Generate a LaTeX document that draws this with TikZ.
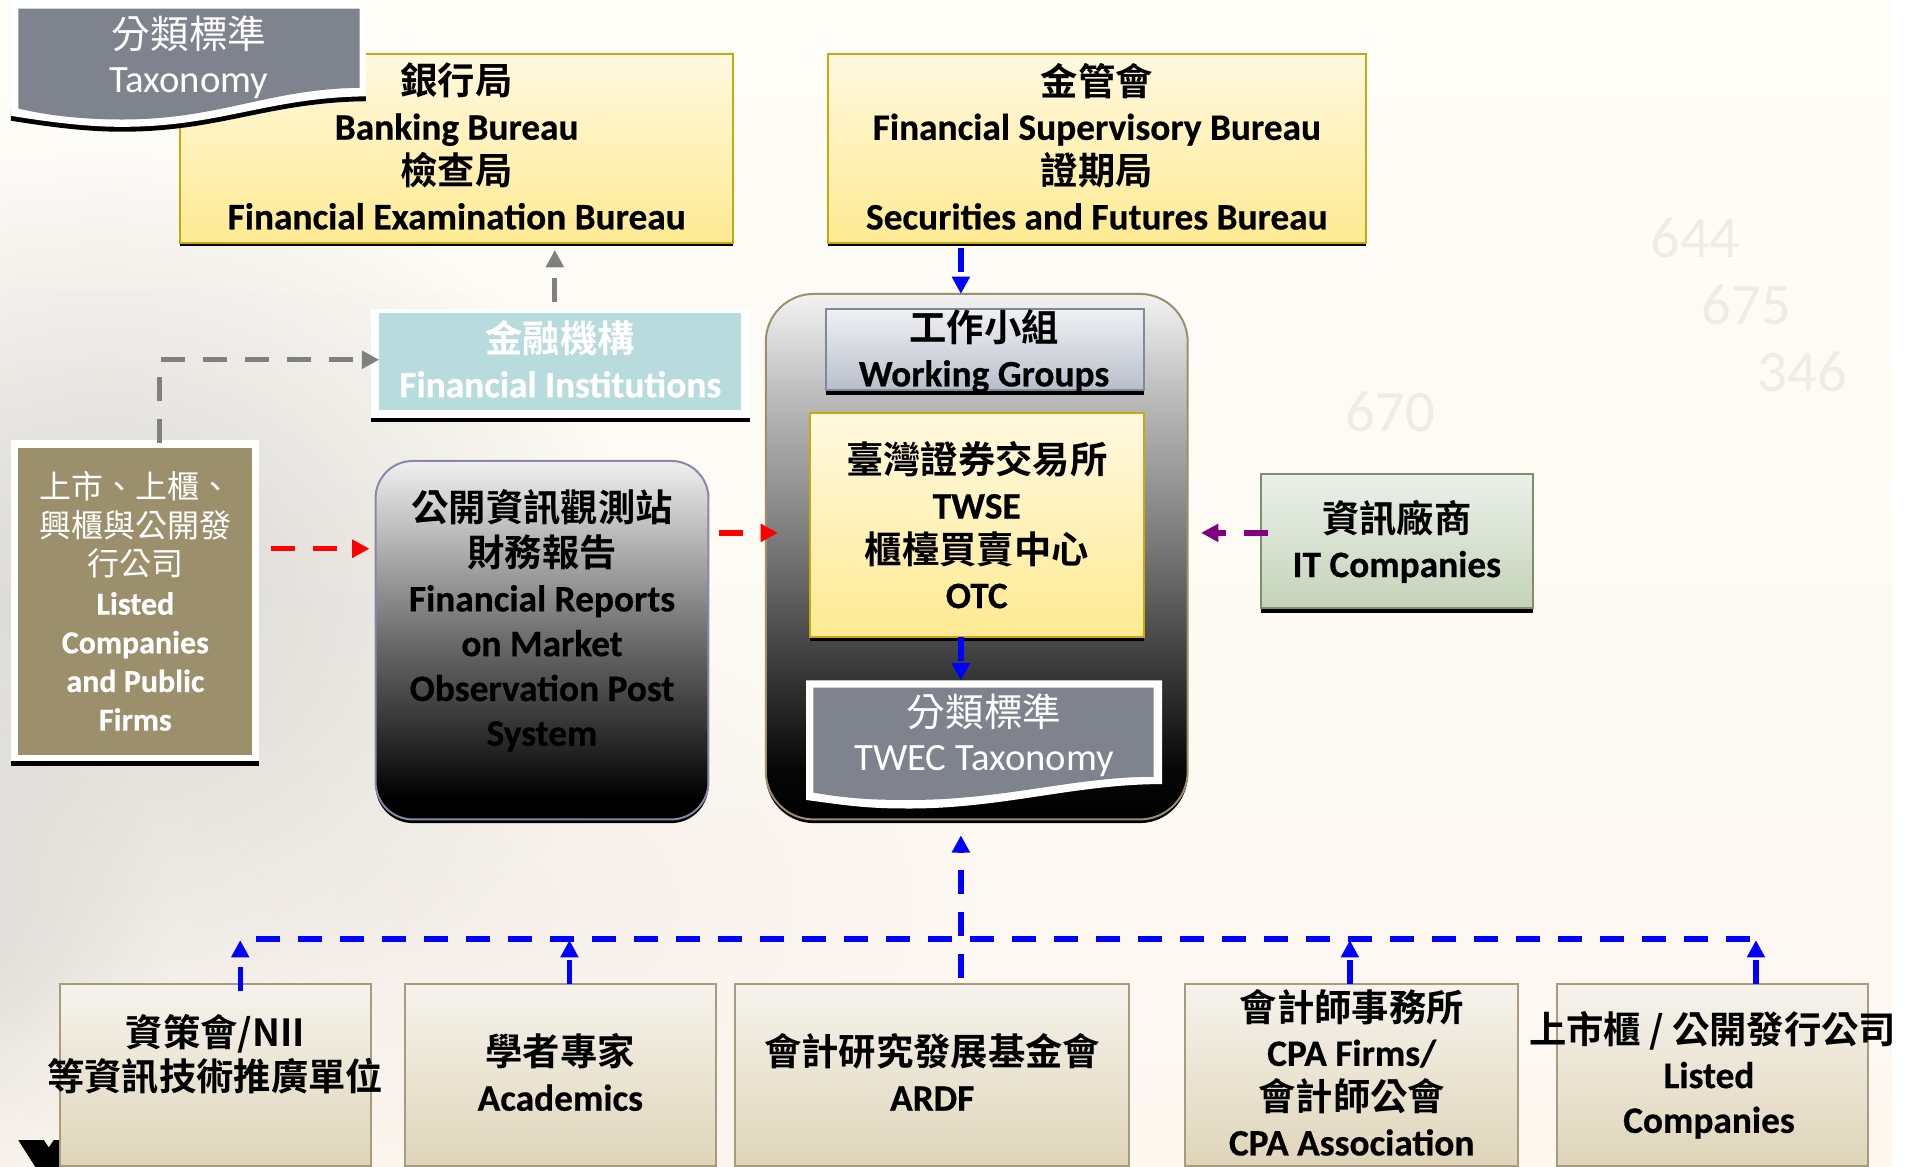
\documentclass[tikz,border=0pt]{standalone}
\usepackage{fontspec}
\usetikzlibrary{arrows.meta,fadings,calc}
\setmainfont{Carlito}[BoldFeatures={FakeBold=0.5}]
\newfontfamily\cjkfont{Noto Sans CJK TC}
\newfontfamily\cjkb{Noto Sans CJK TC Bold}
\newcommand\zh[1]{{\cjkb\mdseries #1}}
\newcommand\zl[1]{{\cjkfont\mdseries #1}}
\newcommand\upfix[1]{\rule[-#1pt]{0pt}{1pt}}
\definecolor{bgtop}{HTML}{FEFDF8}
\definecolor{bgbot}{HTML}{FDF7F0}
\definecolor{mark}{HTML}{EFECE7}
\pgfdeclareverticalshading{mktshade}{100bp}{color(0bp)=(black); color(25bp)=(black); color(28bp)=(black); color(38bp)=(black!80!white); color(50bp)=(black!58!white); color(75bp)=(blue!4!black!6!white); color(100bp)=(blue!4!black!6!white)}
\pgfdeclareverticalshading{bigshade}{100bp}{color(0bp)=(black); color(25bp)=(black); color(30bp)=(black!97!white); color(50bp)=(black!55!white); color(66bp)=(black!25!white); color(75bp)=(orange!6!black!5!white); color(100bp)=(orange!6!black!5!white)}
\tikzfading[name=softc,inner color=transparent!0,outer color=transparent!100]
\newcommand\boxnode[7]{% name, style, x1,y1,x2,y2, text
  \pgfmathsetmacro\cxx{(#3+#5)/2}\pgfmathsetmacro\cyy{(#4+#6)/2}%
  \pgfmathsetmacro\wdd{(#5-#3)*0.91455}\pgfmathsetmacro\htt{(#6-#4)*0.91455}%
  \node[#2,minimum width=\wdd pt,minimum height=\htt pt] (#1) at (\cxx,\cyy) {#7};}
\newcommand\fw[1]{\makebox[0pt][c]{#1}}
\definecolor{violet}{HTML}{800080}
\definecolor{FFF9E0c}{HTML}{FFF9E0}\definecolor{FEEA92c}{HTML}{FEEA92}
\definecolor{goldedge}{HTML}{C8A810}
\definecolor{wgedge}{HTML}{7F8B9B}\definecolor{EEF0F4c}{HTML}{F0F1F5}\definecolor{B8BEC9c}{HTML}{B8BEC9}
\definecolor{itedge}{HTML}{7F8F6E}\definecolor{EBF0E8c}{HTML}{EBF0E9}\definecolor{C5D4B8c}{HTML}{C4D3B9}
\definecolor{tanedge}{HTML}{A89C80}\definecolor{F5F2EAc}{HTML}{F5F3EC}\definecolor{E0D5BAc}{HTML}{E0D5BA}
\definecolor{tealc}{HTML}{B8DCDD}\definecolor{olivec}{HTML}{9C8F6C}\definecolor{slatec}{HTML}{7F838D}
\definecolor{mktedge}{HTML}{8888A8}\definecolor{bigedge}{HTML}{9C8F6C}
\tikzset{
  basebox/.style={rectangle,inner sep=0pt,outer sep=0pt,align=center,line width=1.5pt,
    font=\fontsize{28}{33.6}\selectfont\bfseries},
  yellowbox/.style={basebox,draw=goldedge,top color=FFF9E0c,bottom color=FEEA92c},
  wgbox/.style={basebox,draw=wgedge,top color=EEF0F4c,bottom color=B8BEC9c},
  itbox/.style={basebox,draw=itedge,top color=EBF0E8c,bottom color=C5D4B8c},
  tanbox/.style={basebox,draw=tanedge,top color=F5F2EAc,bottom color=E0D5BAc},
  tealbox/.style={basebox,fill=tealc,text=white},
  oliveb/.style={basebox,fill=olivec,text=white,font=\fontsize{24}{29}\selectfont\bfseries},
  graydoc/.style={align=center,text=white,inner sep=0pt,font=\fontsize{29}{33.6}\selectfont},
  plaintext/.style={align=center,inner sep=0pt,font=\fontsize{28}{33.6}\selectfont\bfseries},
  conn/.style={line width=4pt,dash pattern=on 18pt off 13.5pt,-{Triangle[width=13pt,length=13pt]}},
  bl/.style={conn,draw=blue},
  rd/.style={conn,draw=red},
  gr/.style={conn,draw=gray},
  pu/.style={conn,draw=violet},
  roundm/.style={basebox,rounded corners=28pt,draw=mktedge,shading=mktshade},
  roundb/.style={rectangle,inner sep=0pt,outer sep=0pt,rounded corners=36pt,line width=1.5pt,draw=bigedge,shading=bigshade},
  wmark/.style={text=mark,font=\fontsize{44}{44}\selectfont}
}
\begin{document}
\begin{tikzpicture}[x=0.91455pt,y=-0.91455pt]
\useasboundingbox (0,0) rectangle (1568,957);
\fill[white] (0,0) rectangle (1568,957);
\begin{scope}
\clip (0,0) rectangle (1551,957);
% background
\shade[top color=bgtop,bottom color=bgbot] (0,0) rectangle (1551,957);
\fill[black!30,path fading=softc,opacity=.5] (-350,120) rectangle (520,860);
\fill[black!25,path fading=softc,opacity=.4] (-180,560) rectangle (140,1000);
\fill[orange!30!black!14,path fading=softc,opacity=.4] (-100,480) rectangle (800,1000);
\node[wmark] (wa) at (1390,195) {644};
\node[wmark] (wb) at (1432,250) {675};
\node[wmark] (wc) at (1478,305) {346};
\node[wmark] (wn) at (1140,338) {670};
% Y fragment
\fill[black] (15,935) -- (36,935) -- (40,941) -- (44,935) -- (49,935) -- (49,957) -- (29,957) -- cycle;
% top boxes
\fill[black] (148,190) rectangle (601,202);
\boxnode{bank}{yellowbox}{148}{44}{601}{199}{\zh{銀行局}\\Banking Bureau\\\zh{檢查局}\\Financial Examination Bureau\upfix{3}}
\fill[black] (679,190) rectangle (1120,202);
\boxnode{fsb}{yellowbox}{679}{44}{1120}{199}{\zh{金管會}\\Financial Supervisory Bureau\\\zh{證期局}\\Securities and Futures Bureau\upfix{3}}
% taxonomy document
\fill[black] (9,99) .. controls (40,104) and (70,108) .. (100,108) .. controls (180,108) and (220,84) .. (300,83) -- (300,75) -- (9,90) -- cycle;
\fill[white] (9,0) -- (300,0) -- (300,79) .. controls (220,80) and (180,104) .. (100,104) .. controls (70,104) and (40,100) .. (9,95) -- cycle;
\fill[slatec] (15,7) -- (295,7) -- (295,72) .. controls (220,73) and (180,98) .. (100,98) .. controls (70,98) and (40,95) .. (15,89) -- cycle;
\node[graydoc] (tax) at (155,47) {\zl{分類標準}\\Taxonomy};
% fin inst
\fill[black] (304,335) rectangle (615,346);
\fill[white] (304,253) rectangle (615,343);
\boxnode{fi}{tealbox}{311}{257}{608}{336}{\zh{金融機構}\\Financial Institutions\upfix{4}}
% listed
\fill[black] (9,610) rectangle (212,628);
\fill[white] (9,361) rectangle (212,624);
\boxnode{lc}{oliveb}{15}{367}{207}{619}{\zl{上市、上櫃、}\\\zl{興櫃與公開發}\\\zl{行公司}\\Listed\\Companies\\and Public\\Firms}
% market
\fill[black,rounded corners=28pt] (308,400) rectangle (581,675);
\boxnode{mkt}{roundm}{308}{378}{581}{672}{\zh{公開資訊觀測站}\\\zh{財務報告}\\Financial Reports\\on Market\\Observation Post\\System\\\mbox{}}
% big
\fill[black,rounded corners=36pt] (628,400) rectangle (974,675);
\boxnode{big}{roundb}{628}{241}{974}{672}{}
\fill[black] (677,310) rectangle (938,324);
\boxnode{wg}{wgbox}{677}{253}{938}{320}{}
\node[plaintext] (wgt) at (807,288) {\zh{工作小組}\\Working Groups};
\fill[black] (664,510) rectangle (938,526);
\boxnode{twse}{yellowbox}{664}{339}{938}{522}{\zh{臺灣證券交易所}\\TWSE\\\zh{櫃檯買賣中心}\\OTC}
\fill[white] (661,558) -- (953,558) -- (953,643) .. controls (880,643) and (820,664) .. (740,663) .. controls (710,663) and (690,660) .. (661,656) -- cycle;
\fill[slatec] (667,564) -- (946,564) -- (946,637) .. controls (880,637) and (820,657) .. (740,656) .. controls (710,656) and (690,654) .. (667,650) -- cycle;
\node[graydoc] (twec) at (807,603) {\zl{分類標準}\\TWEC Taxonomy};
% IT
\fill[black] (1034,490) rectangle (1257,503);
\boxnode{it}{itbox}{1034}{389}{1257}{499}{\zh{資訊廠商}\\IT Companies}
% bottom row
\boxnode{nii}{tanbox}{49}{807}{304}{956}{\fw{\zh{資策會/NII}}\\\fw{\zh{等資訊技術推廣單位}}\\\mbox{}}
\boxnode{acad}{tanbox}{332}{807}{587}{956}{\zh{學者專家}\\Academics\upfix{4}}
\boxnode{ardf}{tanbox}{603}{807}{926}{956}{\zh{會計研究發展基金會}\\ARDF\upfix{4}}
\boxnode{cpa}{tanbox}{972}{807}{1245}{956}{\zh{會計師事務所}\\CPA Firms/\\\zh{會計師公會}\\CPA Association\upfix{4}}
\boxnode{lst}{tanbox}{1277}{807}{1532}{956}{\fw{\zh{上市櫃\hspace{.22em}/\hspace{.22em}公開發行公司}}\\\hspace*{-5.5pt}Listed\\\hspace*{-5.5pt}Companies}
% connector positions
\coordinate (xg) at (455,0);
\coordinate (xb) at (788,0);
\coordinate (xl) at (131,0);
\coordinate (yf) at (0,295);
\coordinate (ybar) at (0,771);
\coordinate (xa) at (197,0);
\coordinate (xc) at (467,0);
\coordinate (xd) at (1107,0);
\coordinate (xe) at (1440,0);
\coordinate (barL) at (210,770);
\coordinate (barR) at (1436,770);
\coordinate (bigB) at (788,685);
\coordinate (itL) at (1040,437);
\coordinate (mktR) at (590,437);
\coordinate (lcR) at (222,450);
\coordinate (mktL) at (303,450);
\coordinate (bigL) at (638,437);
\coordinate (bigR) at (985,437);
% connectors
\draw[gr] ($(fi.north -| xg)+(0,-9)$) -- ($(bank.south -| xg)+(0,6)$);
\draw[gr] ($(lc.north -| xl)+(0,-4)$) -- (yf -| xl) -- (yf -| fi.west);
\draw[rd] (lcR) -- (mktL);
\draw[rd] (mktR) -- (bigL);
\draw[pu] (itL) -- (bigR);
\draw[bl] ($(fsb.south -| xb)+(0,4)$) -- (big.north -| xb);
\draw[bl] (twse.south -| xb) -- ($(twse.south -| xb)+(0,36)$);
\draw[bl] ($(ardf.north -| xb)+(0,-5)$) -- (bigB);
\draw[line width=4pt,blue,dash pattern=on 18pt off 13.5pt] (barL) -- (barR);
\draw[bl] ($(nii.north -| xa)+(0,6)$) -- (ybar -| xa);
\draw[bl] (acad.north -| xc) -- (ybar -| xc);
\draw[bl] (cpa.north -| xd) -- (ybar -| xd);
\draw[bl] (lst.north -| xe) -- (ybar -| xe);
\end{scope}
\end{tikzpicture}
\end{document}
